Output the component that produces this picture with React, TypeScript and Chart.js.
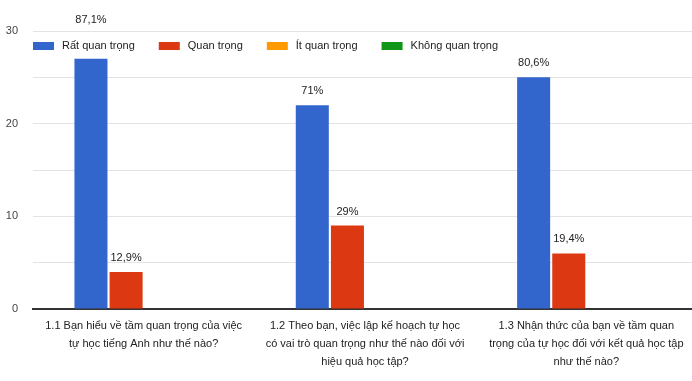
import { useEffect, useRef } from 'react';
import { Chart, registerables } from 'chart.js';

Chart.register(...registerables);

// Survey questions (x-axis categories), wrapped the way they are printed
const categories: string[][] = [
  ['1.1 Bạn hiểu về tầm quan trọng của việc', 'tự học tiếng Anh như thế nào?'],
  ['1.2 Theo bạn, việc lập kế hoạch tự học', 'có vai trò quan trọng như thế nào đối với', 'hiệu quả học tập?'],
  ['1.3 Nhận thức của bạn về tầm quan', 'trọng của tự học đối với kết quả học tập', 'như thế nào?'],
];

// Number of answers per response option
const seriesNames = ['Rất quan trọng', 'Quan trọng', 'Ít quan trọng', 'Không quan trọng'];
const veryImportant = [27, 22, 25];
const important = [4, 9, 6];
const lessImportant = [0, 0, 0];
const notImportant = [0, 0, 0];
const seriesColors = ['#3366cc', '#dc3912', '#ff9900', '#109618'];

// Value axis
const yMin = 0;
const yMax = 30;
const yStep = 5;
const yLabelEvery = 10;

const FONT = '"Liberation Sans", Arial, sans-serif';

// Share of the category total, written with a decimal comma ("87,1%", "71%")
function formatShare(value: number, total: number): string {
  const s = ((value / total) * 100).toFixed(1).replace(/\.0$/, '');
  return s.replace('.', ',') + '%';
}

// Draws the legend inside the plot area and the percentage labels above bars
const overlayPlugin = {
  id: 'overlay',
  afterDatasetsDraw(chart: any) {
    const { ctx, chartArea } = chart;
    ctx.save();
    ctx.font = `11px ${FONT}`;
    ctx.textBaseline = 'middle';
    ctx.textAlign = 'left';

    const boxW = 21;
    const boxH = 8;
    const boxTop = chartArea.top + 11;
    let x = chartArea.left;
    const legendRects: { left: number; right: number }[] = [];
    chart.data.datasets.forEach((ds: any) => {
      ctx.fillStyle = ds.backgroundColor;
      ctx.fillRect(x, boxTop, boxW, boxH);
      const tx = x + boxW + 8;
      ctx.fillStyle = '#222';
      ctx.fillText(ds.label, tx, boxTop + boxH / 2);
      const w = ctx.measureText(ds.label).width;
      legendRects.push({ left: x, right: tx + w });
      x = tx + w + 24;
    });
    const legendTop = boxTop - 3;
    const legendBottom = boxTop + boxH + 4;

    ctx.font = `11px ${FONT}`;
    ctx.textAlign = 'center';
    ctx.fillStyle = '#222';
    const n = chart.data.labels.length;
    for (let i = 0; i < n; i++) {
      let total = 0;
      chart.data.datasets.forEach((ds: any) => (total += ds.data[i]));
      chart.data.datasets.forEach((ds: any, di: number) => {
        const v = ds.data[i];
        if (!v) return;
        const el = chart.getDatasetMeta(di).data[i];
        const text = formatShare(v, total);
        const w = ctx.measureText(text).width;
        let y = el.y - 14;
        const hitsLegend =
          y + 6 > legendTop &&
          y - 6 < legendBottom &&
          legendRects.some((r) => el.x + w / 2 > r.left && el.x - w / 2 < r.right);
        if (hitsLegend) y = legendTop - 19;
        ctx.fillText(text, el.x, y);
      });
    }
    ctx.restore();
  },
};

export default function App() {
  const canvasRef = useRef<HTMLCanvasElement | null>(null);

  useEffect(() => {
    if (!canvasRef.current) return;
    const values = [veryImportant, important, lessImportant, notImportant];
    const chart = new Chart(canvasRef.current, {
      type: 'bar',
      data: {
        labels: categories,
        datasets: seriesNames.map((name, i) => ({
          label: name,
          data: values[i],
          backgroundColor: seriesColors[i],
          borderWidth: 0,
          barPercentage: 0.94,
          categoryPercentage: 0.635,
        })),
      },
      options: {
        animation: false,
        responsive: true,
        maintainAspectRatio: false,
        layout: { padding: { top: 31, bottom: 2, left: 0, right: 0 } },
        plugins: {
          legend: { display: false },
          tooltip: { enabled: false },
        },
        scales: {
          x: {
            grid: { display: false, drawTicks: false },
            border: { display: true, color: '#333', width: 2 },
            ticks: {
              color: '#222',
              font: { family: FONT, size: 11, lineHeight: 18 / 11 },
              padding: 8,
              maxRotation: 0,
              minRotation: 0,
              autoSkip: false,
            },
          },
          y: {
            min: yMin,
            max: yMax,
            afterFit: (scale: any) => {
              scale.width = 33;
            },
            grid: { color: '#e3e3e3', drawTicks: false },
            border: { display: false },
            ticks: {
              stepSize: yStep,
              color: '#444',
              padding: 15,
              font: { family: FONT, size: 11 },
              callback: (v: any) => (Number(v) % yLabelEvery === 0 ? String(v) : ''),
            },
          },
        },
      },
      plugins: [overlayPlugin],
    });
    return () => chart.destroy();
  }, []);

  return (
    <div
      style={{
        position: 'absolute',
        left: 0,
        top: 0,
        width: 692,
        height: 381,
        overflow: 'hidden',
        background: '#fff',
      }}
    >
      <div style={{ position: 'relative', width: 697, height: 381 }}>
        <canvas ref={canvasRef} />
      </div>
    </div>
  );
}
